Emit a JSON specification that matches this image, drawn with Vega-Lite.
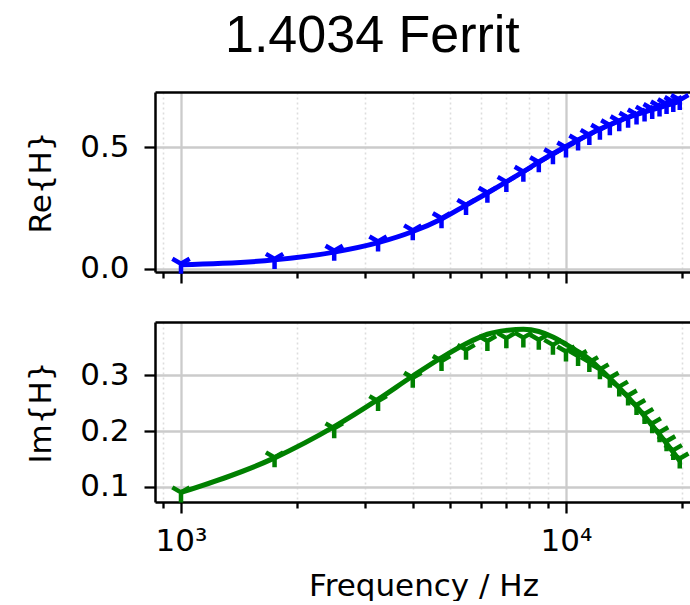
{
  "$schema": "https://vega.github.io/schema/vega-lite/v6.json",
  "padding": {"left": 25, "top": 9, "right": 0, "bottom": 0},
  "background": "white",
  "title": {
    "text": "1.4034 Ferrit",
    "font": "Liberation Sans",
    "fontSize": 52,
    "fontWeight": "normal",
    "color": "black",
    "anchor": "start",
    "frame": "group",
    "dx": 70,
    "offset": 23
  },
  "config": {
    "view": {"stroke": null},
    "axis": {
      "labelFont": "DejaVu Sans",
      "titleFont": "DejaVu Sans",
      "labelFontSize": 31,
      "titleFontSize": 31,
      "titleFontWeight": "normal",
      "labelColor": "black",
      "titleColor": "black",
      "domainColor": "black",
      "domainWidth": 2.5,
      "tickColor": "black",
      "tickWidth": 2.3,
      "gridColor": "#cbcbcb",
      "gridWidth": 2.3,
      "zindex": 0
    }
  },
  "datasets": {
    "h": [
      {"f": 1000, "re_fit": 0.016, "re_meas": 0.020, "im_fit": 0.090, "im_meas": 0.090},
      {"f": 1750, "re_fit": 0.036, "re_meas": 0.040, "im_fit": 0.152, "im_meas": 0.153},
      {"f": 2500, "re_fit": 0.068, "re_meas": 0.074, "im_fit": 0.208, "im_meas": 0.205},
      {"f": 3250, "re_fit": 0.107, "re_meas": 0.112, "im_fit": 0.257, "im_meas": 0.254},
      {"f": 4000, "re_fit": 0.153, "re_meas": 0.158, "im_fit": 0.299, "im_meas": 0.296},
      {"f": 4750, "re_fit": 0.205, "re_meas": 0.208, "im_fit": 0.332, "im_meas": 0.326},
      {"f": 5500, "re_fit": 0.262, "re_meas": 0.263, "im_fit": 0.357, "im_meas": 0.346},
      {"f": 6250, "re_fit": 0.312, "re_meas": 0.313, "im_fit": 0.374, "im_meas": 0.362},
      {"f": 7000, "re_fit": 0.358, "re_meas": 0.358, "im_fit": 0.381, "im_meas": 0.367},
      {"f": 7750, "re_fit": 0.400, "re_meas": 0.400, "im_fit": 0.383, "im_meas": 0.368},
      {"f": 8500, "re_fit": 0.440, "re_meas": 0.439, "im_fit": 0.379, "im_meas": 0.364},
      {"f": 9250, "re_fit": 0.474, "re_meas": 0.472, "im_fit": 0.369, "im_meas": 0.355},
      {"f": 10000, "re_fit": 0.504, "re_meas": 0.500, "im_fit": 0.356, "im_meas": 0.343},
      {"f": 10750, "re_fit": 0.531, "re_meas": 0.529, "im_fit": 0.343, "im_meas": 0.335},
      {"f": 11500, "re_fit": 0.555, "re_meas": 0.552, "im_fit": 0.329, "im_meas": 0.324},
      {"f": 12250, "re_fit": 0.576, "re_meas": 0.573, "im_fit": 0.312, "im_meas": 0.311},
      {"f": 13000, "re_fit": 0.594, "re_meas": 0.592, "im_fit": 0.295, "im_meas": 0.296},
      {"f": 13750, "re_fit": 0.610, "re_meas": 0.608, "im_fit": 0.278, "im_meas": 0.280},
      {"f": 14500, "re_fit": 0.624, "re_meas": 0.623, "im_fit": 0.261, "im_meas": 0.264},
      {"f": 15250, "re_fit": 0.636, "re_meas": 0.636, "im_fit": 0.244, "im_meas": 0.247},
      {"f": 16000, "re_fit": 0.646, "re_meas": 0.648, "im_fit": 0.227, "im_meas": 0.231},
      {"f": 16750, "re_fit": 0.656, "re_meas": 0.659, "im_fit": 0.210, "im_meas": 0.214},
      {"f": 17500, "re_fit": 0.665, "re_meas": 0.669, "im_fit": 0.194, "im_meas": 0.198},
      {"f": 18250, "re_fit": 0.674, "re_meas": 0.679, "im_fit": 0.178, "im_meas": 0.182},
      {"f": 19000, "re_fit": 0.682, "re_meas": 0.688, "im_fit": 0.162, "im_meas": 0.166},
      {"f": 19750, "re_fit": 0.690, "re_meas": 0.696, "im_fit": 0.147, "im_meas": 0.151}
    ]
  },
  "spacing": 34,
  "vconcat": [
    {
      "width": 537,
      "height": 180,
      "data": {"name": "h"},
      "resolve": {"axis": {"x": "independent"}},
      "layer": [
        {
          "mark": {"type": "point", "shape": "M0,0L0,1M0,0L-0.866,-0.5M0,0L0.866,-0.5", "filled": false, "size": 400, "strokeWidth": 4.5, "color": "#0000ff", "opacity": 1},
          "encoding": {
            "x": {"field": "f", "type": "quantitative",
                  "scale": {"type": "log", "domain": [856, 21250], "nice": false, "zero": false},
                  "axis": {"orient": "top", "ticks": false, "labels": false, "grid": false, "domain": true, "title": null}},
            "y": {"field": "re_meas", "type": "quantitative",
                  "scale": {"domain": [-0.014, 0.729], "nice": false, "zero": false},
                  "axis": {"title": "Re{H}", "values": [0, 0.5], "format": ".1f", "tickSize": 11, "labelPadding": 15, "titlePadding": 22, "grid": true}}
          }
        },
        {
          "mark": {"type": "line", "color": "#0000ff", "strokeWidth": 5, "interpolate": "monotone"},
          "encoding": {
            "x": {"field": "f", "type": "quantitative",
                  "scale": {"type": "log", "domain": [856, 21250], "nice": false, "zero": false},
                  "axis": {"orient": "bottom", "title": null, "labels": false, "labelOverlap": false, "grid": true,
                           "values": [900, 1000, 2000, 3000, 4000, 5000, 6000, 7000, 8000, 9000, 10000, 20000],
                           "tickSize": {"condition": {"test": "datum.value == 1000 || datum.value == 10000", "value": 11}, "value": 6},
                           "gridDash": {"condition": {"test": "datum.value == 1000 || datum.value == 10000", "value": []}, "value": [2, 3]},
                           "gridColor": {"condition": {"test": "datum.value == 1000 || datum.value == 10000", "value": "#cbcbcb"}, "value": "#dddddd"},
                           "gridWidth": {"condition": {"test": "datum.value == 1000 || datum.value == 10000", "value": 2.3}, "value": 1.6}}},
            "y": {"field": "re_fit", "type": "quantitative",
                  "scale": {"domain": [-0.014, 0.729], "nice": false, "zero": false},
                  "axis": {"title": "Re{H}", "values": [0, 0.5], "format": ".1f", "tickSize": 11, "labelPadding": 15, "titlePadding": 22, "grid": true}}
          }
        }
      ]
    },
    {
      "width": 537,
      "height": 180,
      "data": {"name": "h"},
      "resolve": {"axis": {"x": "independent"}},
      "layer": [
        {
          "mark": {"type": "point", "shape": "M0,0L0,1M0,0L-0.866,-0.5M0,0L0.866,-0.5", "filled": false, "size": 400, "strokeWidth": 4.5, "color": "#008000", "opacity": 1},
          "encoding": {
            "x": {"field": "f", "type": "quantitative",
                  "scale": {"type": "log", "domain": [856, 21250], "nice": false, "zero": false},
                  "axis": {"orient": "top", "ticks": false, "labels": false, "grid": false, "domain": true, "title": null}},
            "y": {"field": "im_meas", "type": "quantitative",
                  "scale": {"domain": [0.0728, 0.396], "nice": false, "zero": false},
                  "axis": {"title": "Im{H}", "values": [0.1, 0.2, 0.3], "format": ".1f", "tickSize": 11, "labelPadding": 15, "titlePadding": 22, "grid": true}}
          }
        },
        {
          "mark": {"type": "line", "color": "#008000", "strokeWidth": 5, "interpolate": "monotone"},
          "encoding": {
            "x": {"field": "f", "type": "quantitative",
                  "scale": {"type": "log", "domain": [856, 21250], "nice": false, "zero": false},
                  "axis": {"orient": "bottom", "title": "Frequency / Hz", "labelOverlap": false, "labelFlush": false, "grid": true,
                           "labelPadding": 13, "titlePadding": 15,
                           "labelExpr": "datum.value == 1000 ? '10³' : datum.value == 10000 ? '10⁴' : ''",
                           "values": [900, 1000, 2000, 3000, 4000, 5000, 6000, 7000, 8000, 9000, 10000, 20000],
                           "tickSize": {"condition": {"test": "datum.value == 1000 || datum.value == 10000", "value": 11}, "value": 6},
                           "gridDash": {"condition": {"test": "datum.value == 1000 || datum.value == 10000", "value": []}, "value": [2, 3]},
                           "gridColor": {"condition": {"test": "datum.value == 1000 || datum.value == 10000", "value": "#cbcbcb"}, "value": "#dddddd"},
                           "gridWidth": {"condition": {"test": "datum.value == 1000 || datum.value == 10000", "value": 2.3}, "value": 1.6}}},
            "y": {"field": "im_fit", "type": "quantitative",
                  "scale": {"domain": [0.0728, 0.396], "nice": false, "zero": false},
                  "axis": {"title": "Im{H}", "values": [0.1, 0.2, 0.3], "format": ".1f", "tickSize": 11, "labelPadding": 15, "titlePadding": 22, "grid": true}}
          }
        }
      ]
    }
  ]
}
